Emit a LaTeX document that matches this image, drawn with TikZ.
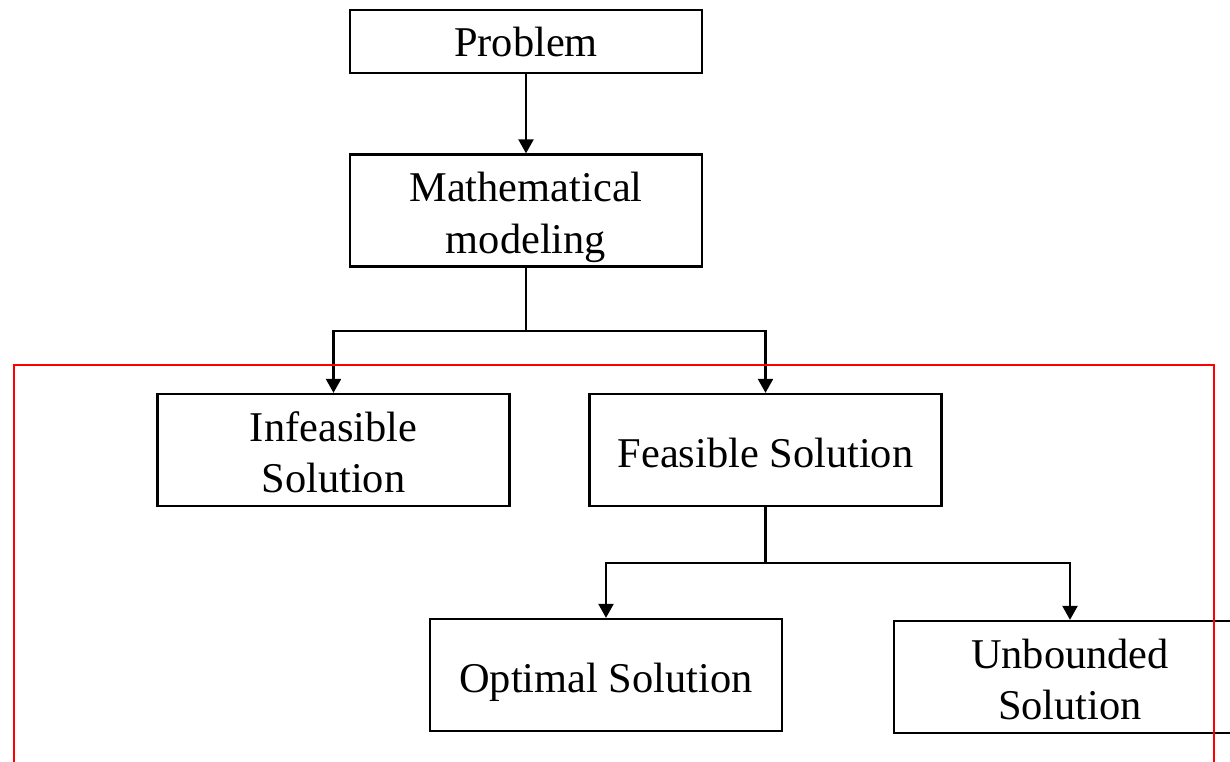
\documentclass[tikz,border=0pt]{standalone}
\usepackage{fontspec}
\setmainfont{Liberation Serif}
\usetikzlibrary{arrows.meta}
\begin{document}
\begin{tikzpicture}[x=1pt,y=-1pt,
  box/.style={draw=black,line width=2.3pt,rectangle,minimum width=352pt,minimum height=112pt,inner sep=0pt,align=center,font=\fontsize{42.4}{51.5}\selectfont,text height=40pt,text depth=6pt},
  twoline/.style={text height=91.5pt,text depth=6pt},
  conn/.style={draw=black,line width=2.3pt},
  arr/.style={conn,-{Triangle[width=15pt,length=14pt]}},
  frame/.style={draw=red,line width=2pt}]
\useasboundingbox (0,0) rectangle (1230,762);
\node[box,minimum height=63pt,text depth=10pt] (prob) at (526,41.5) {Problem};
\node[box,twoline] (math) at (526,210.5) {Mathematical\\modeling};
\node[box,twoline] (infeas) at (333.5,450) {Infeasible\\Solution};
\node[box] (feas) at (765.5,450) {Feasible Solution};
\node[box] (opt) at (606,675) {Optimal Solution};
\node[box,twoline] (unb) at (1070,677) {Unbounded\\Solution};
\coordinate (j1) at (526,331);
\coordinate (j2) at (765.5,563);
\draw[arr] (prob) -- (math);
\draw[conn] (math.south) -- (j1);
\draw[arr] (j1) -| (infeas.north);
\draw[arr] (j1) -| (feas.north);
\draw[conn] (feas.south) -- (j2);
\draw[arr] (j2) -| (opt.north);
\draw[arr] (j2) -| (unb.north);
\coordinate (r1) at (14,775);
\coordinate (r2) at (1214,775);
\draw[frame] (r1) |- (1214,365) -- (r2);
\end{tikzpicture}
\end{document}
